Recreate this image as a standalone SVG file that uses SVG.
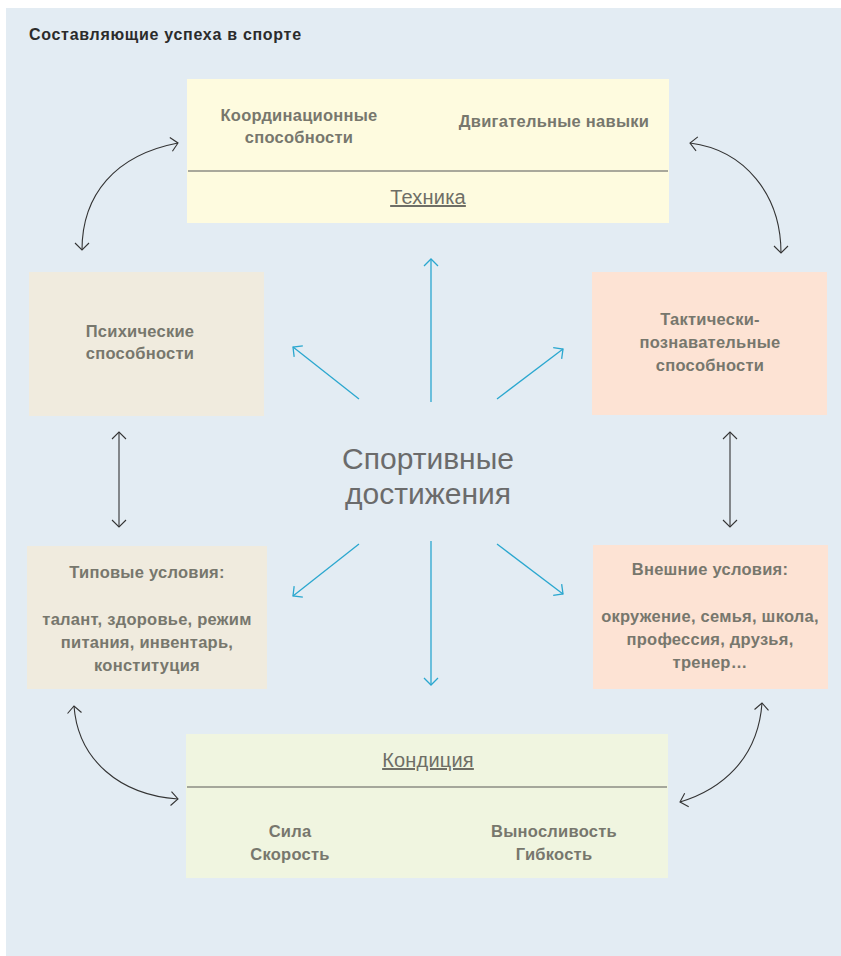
<svg xmlns="http://www.w3.org/2000/svg" width="841" height="956" viewBox="0 0 841 956">
<defs>
<style>
.lbl{font-family:"Liberation Sans",Arial,sans-serif;font-weight:bold;font-size:16.5px;letter-spacing:0.25px;fill:#77776d;text-anchor:middle}
.hd{font-family:"Liberation Sans",Arial,sans-serif;font-size:20px;letter-spacing:0.2px;fill:#6e6e66;text-anchor:middle;text-decoration:underline}
.ctr{font-family:"Liberation Sans",Arial,sans-serif;font-size:30px;fill:#6b6b6b;text-anchor:middle}
.blue{stroke:#2aa7cf;stroke-width:1.3;fill:none;marker-end:url(#ab)}
.blk{stroke:#333;stroke-width:1.1;fill:none;marker-start:url(#ak);marker-end:url(#ak)}
.div{stroke:#8c8c84;stroke-width:1.5}
</style>
<marker id="ab" markerUnits="userSpaceOnUse" markerWidth="20" markerHeight="20" viewBox="-10 -10 20 20" refX="0" refY="0" orient="auto">
<path d="M-7,-7 L0,0 L-7,7" fill="none" stroke="#2aa7cf" stroke-width="1.3"/>
</marker>
<marker id="ak" markerUnits="userSpaceOnUse" markerWidth="20" markerHeight="20" viewBox="-10 -10 20 20" refX="0" refY="0" orient="auto-start-reverse">
<path d="M-7,-7 L0,0 L-7,7" fill="none" stroke="#333" stroke-width="1.1"/>
</marker>
</defs>
<rect x="0" y="0" width="841" height="956" fill="#ffffff"/>
<rect x="6" y="8" width="835" height="948" fill="#e3ecf3"/>
<text x="29" y="40" font-family="Liberation Sans,Arial,sans-serif" font-weight="bold" font-size="16" letter-spacing="0.7" fill="#2b2b2b">Составляющие успеха в спорте</text>

<g id="technika">
<rect x="187" y="79" width="482" height="144" fill="#fefbdf"/>
<line class="div" x1="188" y1="171" x2="668" y2="171"/>
<text class="lbl" x="299" y="121">Координационные</text>
<text class="lbl" x="299" y="143">способности</text>
<text class="lbl" x="554" y="127">Двигательные навыки</text>
<text class="hd" x="428" y="204">Техника</text>
</g>

<g id="psych">
<rect x="29" y="272" width="235" height="144" fill="#f0ebde"/>
<text class="lbl" x="140" y="337">Психические</text>
<text class="lbl" x="140" y="359">способности</text>
</g>

<g id="tactic">
<rect x="592" y="272" width="235" height="143" fill="#fde3d4"/>
<text class="lbl" x="710" y="325">Тактически-</text>
<text class="lbl" x="710" y="348">познавательные</text>
<text class="lbl" x="710" y="371">способности</text>
</g>

<g id="typical">
<rect x="27" y="546" width="240" height="143" fill="#f0ebde"/>
<text class="lbl" x="147" y="578">Типовые условия:</text>
<text class="lbl" x="147" y="625">талант, здоровье, режим</text>
<text class="lbl" x="147" y="648">питания, инвентарь,</text>
<text class="lbl" x="147" y="671">конституция</text>
</g>

<g id="external">
<rect x="593" y="545" width="235" height="144" fill="#fde3d4"/>
<text class="lbl" x="710" y="575">Внешние условия:</text>
<text class="lbl" x="710" y="622">окружение, семья, школа,</text>
<text class="lbl" x="710" y="645">профессия, друзья,</text>
<text class="lbl" x="710" y="668">тренер…</text>
</g>

<g id="kondicia">
<rect x="186" y="734" width="482" height="144" fill="#f0f5e0"/>
<line class="div" x1="187" y1="787" x2="667" y2="787"/>
<text class="hd" x="428" y="767">Кондиция</text>
<text class="lbl" x="290" y="837">Сила</text>
<text class="lbl" x="290" y="860">Скорость</text>
<text class="lbl" x="554" y="837">Выносливость</text>
<text class="lbl" x="554" y="860">Гибкость</text>
</g>

<g id="center">
<text class="ctr" x="428" y="469">Спортивные</text>
<text class="ctr" x="428" y="504">достижения</text>
</g>

<g id="connectors">
<line class="blue" x1="431" y1="402" x2="431" y2="259"/>
<line class="blue" x1="431" y1="541" x2="431" y2="685"/>
<line class="blue" x1="359" y1="399" x2="293" y2="347"/>
<line class="blue" x1="497" y1="399" x2="563" y2="349"/>
<line class="blue" x1="359" y1="544" x2="293" y2="596"/>
<line class="blue" x1="497" y1="544" x2="563" y2="594"/>
<line class="blk" x1="119" y1="432" x2="119" y2="527"/>
<line class="blk" x1="730" y1="432" x2="730" y2="527"/>
<path class="blk" d="M 82 250 C 82 195 115 155 178 143"/>
<path class="blk" d="M 690 143 C 745 150 781 195 781 253"/>
<path class="blk" d="M 74 706 C 78 760 120 795 178 799"/>
<path class="blk" d="M 762 703 C 758 760 720 790 680 802"/>
</g>
</svg>
